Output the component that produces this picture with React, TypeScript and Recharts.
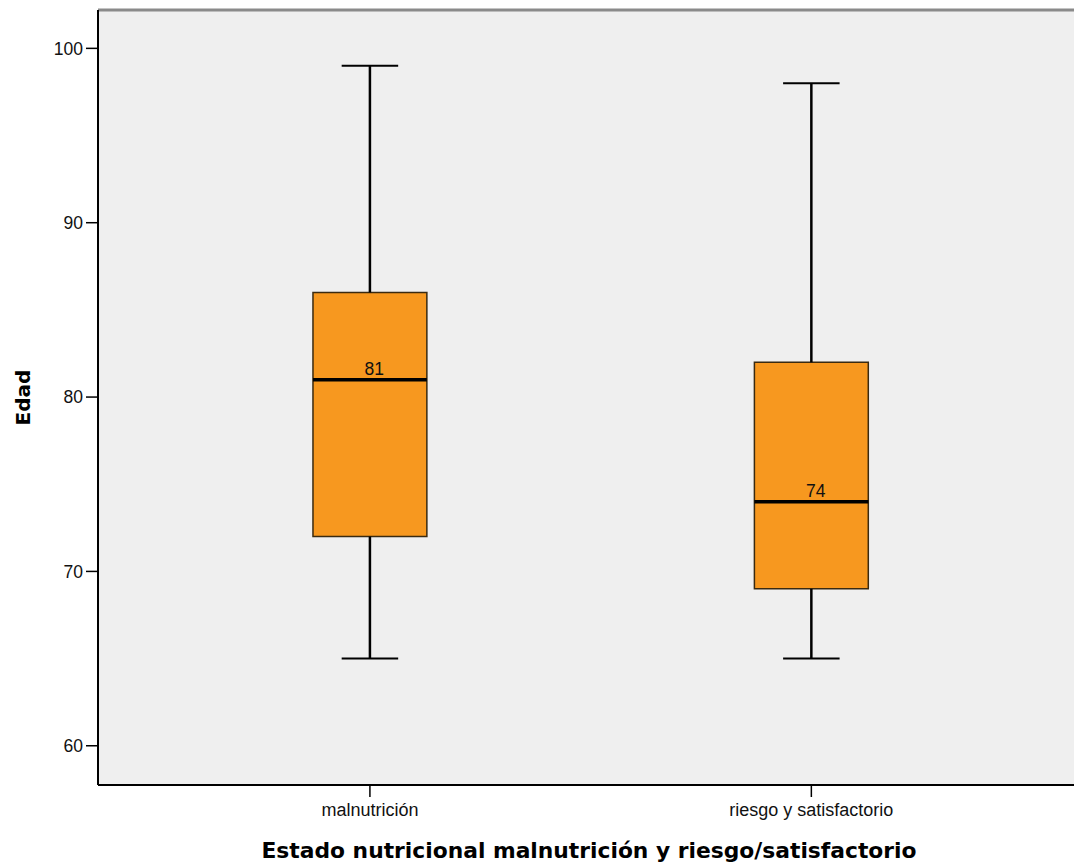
import React from "react";
import {
  ComposedChart,
  XAxis,
  YAxis,
  CartesianGrid,
  ReferenceArea,
  ReferenceLine,
  ReferenceDot,
  Label,
} from "recharts";

// Categories and box-plot statistics (Edad)
const categories = ["malnutrición", "riesgo y satisfactorio"];
const positions = [1, 2];
const minValues = [65, 65];
const q1Values = [72, 69];
const medianValues = [81, 74];
const q3Values = [86, 82];
const maxValues = [99, 98];
const yTicks = [60, 70, 80, 90, 100];
const yDomain = [57.75, 102.2];
const xDomain = [0.384, 2.595];

const xTitle = "Estado nutricional malnutrición y riesgo/satisfactorio";
const yTitle = "Edad";

const BOX_HALF = 0.129;
const CAP_HALF = 0.064;
const ORANGE = "#F7981F";
const TICK_FONT = "'Liberation Sans', Arial, sans-serif";
const TITLE_FONT = "'DejaVu Sans', Verdana, sans-serif";

const data = positions.map((p, i) => ({
  x: p,
  name: categories[i],
  min: minValues[i],
  q1: q1Values[i],
  median: medianValues[i],
  q3: q3Values[i],
  max: maxValues[i],
}));

export default function App() {
  return (
    <div style={{ position: "absolute", left: 0, top: 0, width: 1074, height: 865, background: "#fff" }}>
      <ComposedChart
        width={1074}
        height={865}
        data={data}
        margin={{ top: 10, right: 0, bottom: 0, left: 0 }}
      >
        <CartesianGrid horizontal={false} vertical={false} fill="#EFEFEF" />
        <XAxis
          type="number"
          dataKey="x"
          domain={xDomain}
          allowDataOverflow
          ticks={positions}
          tickFormatter={(v: number) => categories[positions.indexOf(v)] ?? ""}
          height={80}
          tickSize={12}
          tickMargin={6}
          tickLine={{ stroke: "#000", strokeWidth: 1.5 }}
          axisLine={{ stroke: "#000", strokeWidth: 2 }}
          tick={{ fill: "#111", fontSize: 18, fontFamily: TICK_FONT }}
        >
          <Label
            content={({ viewBox }: any) => (
              <text
                x={viewBox.x + viewBox.width / 2 + 3}
                y={viewBox.y + viewBox.height - 7}
                textAnchor="middle"
                fontFamily={TITLE_FONT}
                fontWeight="bold"
                fontSize={21.8}
                fill="#000"
              >
                {xTitle}
              </text>
            )}
          />
        </XAxis>
        <YAxis
          type="number"
          domain={yDomain}
          allowDataOverflow
          ticks={yTicks}
          width={98}
          tickSize={12}
          tickMargin={3}
          tickLine={{ stroke: "#000", strokeWidth: 1.5 }}
          axisLine={{ stroke: "#000", strokeWidth: 2 }}
          tick={{ fill: "#111", fontSize: 17.5, fontFamily: TICK_FONT }}
        >
          <Label
            content={({ viewBox }: any) => {
              const cx = viewBox.x + 23;
              const cy = viewBox.y + viewBox.height / 2;
              return (
                <text
                  x={cx}
                  y={cy}
                  transform={`rotate(-90 ${cx} ${cy})`}
                  textAnchor="middle"
                  dominantBaseline="central"
                  fontFamily={TITLE_FONT}
                  fontWeight="bold"
                  fontSize={20}
                  fill="#000"
                >
                  {yTitle}
                </text>
              );
            }}
          />
        </YAxis>

        {/* top frame line */}
        <ReferenceLine
          y={yDomain[1]}
          stroke="#8a8a8a"
          strokeWidth={3}
          ifOverflow="visible"
        />

        {data.map((d) => (
          <ReferenceLine
            key={`wu-${d.x}`}
            segment={[{ x: d.x, y: d.q3 }, { x: d.x, y: d.max }]}
            stroke="#000"
            strokeWidth={2.5}
          />
        ))}
        {data.map((d) => (
          <ReferenceLine
            key={`wl-${d.x}`}
            segment={[{ x: d.x, y: d.min }, { x: d.x, y: d.q1 }]}
            stroke="#000"
            strokeWidth={2.5}
          />
        ))}
        {data.map((d) => (
          <ReferenceLine
            key={`cu-${d.x}`}
            segment={[{ x: d.x - CAP_HALF, y: d.max }, { x: d.x + CAP_HALF, y: d.max }]}
            stroke="#000"
            strokeWidth={2}
          />
        ))}
        {data.map((d) => (
          <ReferenceLine
            key={`cl-${d.x}`}
            segment={[{ x: d.x - CAP_HALF, y: d.min }, { x: d.x + CAP_HALF, y: d.min }]}
            stroke="#000"
            strokeWidth={2}
          />
        ))}
        {data.map((d) => (
          <ReferenceArea
            key={`box-${d.x}`}
            x1={d.x - BOX_HALF}
            x2={d.x + BOX_HALF}
            y1={d.q1}
            y2={d.q3}
            fill={ORANGE}
            fillOpacity={1}
            stroke="#3a2a10"
            strokeWidth={1.5}
          />
        ))}
        {data.map((d) => (
          <ReferenceLine
            key={`med-${d.x}`}
            segment={[{ x: d.x - BOX_HALF, y: d.median }, { x: d.x + BOX_HALF, y: d.median }]}
            stroke="#000"
            strokeWidth={3.5}
          />
        ))}
        {data.map((d) => (
          <ReferenceDot
            key={`lab-${d.x}`}
            x={d.x + 0.01}
            y={d.median}
            r={0}
            fill="none"
            stroke="none"
          >
            <Label
              value={String(d.median)}
              position="top"
              offset={5}
              fill="#111"
              fontSize={17.5}
              fontFamily={TICK_FONT}
            />
          </ReferenceDot>
        ))}
      </ComposedChart>
    </div>
  );
}
